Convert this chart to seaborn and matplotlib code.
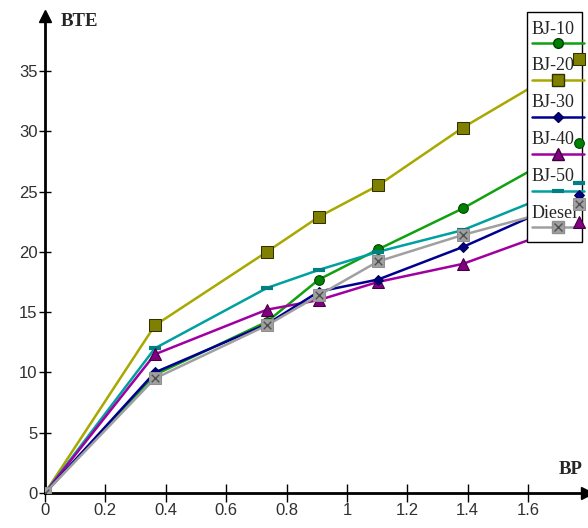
import matplotlib
matplotlib.use("Agg")
import matplotlib.pyplot as plt
import seaborn as sns
import pandas as pd
from matplotlib.lines import Line2D
from matplotlib.transforms import Affine2D
from matplotlib.legend_handler import HandlerTuple, HandlerLine2D

# ---- data ----
bp = [0, 0.364, 0.735, 0.907, 1.103, 1.384, 1.77]
bj10 = [0, 9.8, 14.2, 17.7, 20.2, 23.6, 29.0]
bj20 = [0, 13.9, 20.0, 22.9, 25.5, 30.3, 36.0]
bj30 = [0, 10.0, 14.0, 16.7, 17.7, 20.4, 24.7]
bj40 = [0, 11.5, 15.2, 16.0, 17.5, 19.0, 22.5]
bj50 = [0, 12.0, 17.0, 18.5, 20.0, 21.8, 25.7]
diesel = [0, 9.5, 13.9, 16.4, 19.2, 21.4, 24.0]
series_names = ["BJ-10", "BJ-20", "BJ-30", "BJ-40", "BJ-50", "Diesel"]
x_ticks = [0, 0.2, 0.4, 0.6, 0.8, 1, 1.2, 1.4, 1.6]
x_tick_labels = ["0", "0.2", "0.4", "0.6", "0.8", "1", "1.2", "1.4", "1.6"]
y_ticks = [0, 5, 10, 15, 20, 25, 30, 35]
y_tick_labels = ["0", "5", "10", "15", "20", "25", "30", "35"]

sns.set_theme(style="white")
plt.rcParams["font.family"] = ["Liberation Serif", "DejaVu Serif"]

DPI = 100
fig = plt.figure(figsize=(5.88, 5.28), dpi=DPI)
ax = fig.add_axes([45 / 588, 1 - 493 / 528, (587 - 45) / 588, (493 - 10) / 528])
ax.set_xlim(0, 1.795)
ax.set_ylim(0, 40.05)

styles = {
    "BJ-10": dict(color="#10a010", marker="o", ms=7, mfc="#008000", mec="#004000"),
    "BJ-20": dict(color="#a8a800", marker="s", ms=8.5, mfc="#808000", mec="#303000"),
    "BJ-30": dict(color="#000090", marker="D", ms=5.5, mfc="#000080", mec="#000050"),
    "BJ-40": dict(color="#a000a0", marker="^", ms=8, mfc="#800080", mec="#400040"),
    "BJ-50": dict(color="#00a0a0", marker="_", ms=9, mfc="#008080", mec="#008080", mew=3),
    "Diesel": dict(color="#a0a0a0", marker="s", ms=8, mfc="#a0a0a0", mec="#909090"),
}
values = {"BJ-10": bj10, "BJ-20": bj20, "BJ-30": bj30, "BJ-40": bj40,
          "BJ-50": bj50, "Diesel": diesel}
order = ["BJ-20", "BJ-10", "BJ-50", "BJ-40", "BJ-30", "Diesel"]

# lines (below the legend box)
for name in order:
    df = pd.DataFrame({"BP": bp, "BTE": values[name]})
    sns.lineplot(data=df, x="BP", y="BTE", ax=ax, color=styles[name]["color"],
                 lw=1.8, estimator=None, sort=False, legend=False, zorder=3)
# markers (above the legend box, like the original)
for name in order:
    st = dict(styles[name])
    color = st.pop("color")
    df = pd.DataFrame({"BP": bp, "BTE": values[name]})
    sns.lineplot(data=df, x="BP", y="BTE", ax=ax, color=color, ls="none",
                 estimator=None, sort=False, legend=False, zorder=12, **st)
sns.scatterplot(x=bp, y=diesel, ax=ax, marker="x", s=30, color="#505050",
                linewidth=1.0, zorder=13, legend=False)

ax.set_xlabel("")
ax.set_ylabel("")
for s in ["top", "right"]:
    ax.spines[s].set_visible(False)
for s in ["left", "bottom"]:
    ax.spines[s].set_color("black")
    ax.spines[s].set_linewidth(2)
ax.spines["left"].set_bounds(0, 39.0)

ax.set_xticks(x_ticks)
ax.set_xticklabels(x_tick_labels)
ax.set_yticks(y_ticks)
ax.set_yticklabels(y_tick_labels)
tickfont = ["Liberation Sans Narrow", "Liberation Sans", "DejaVu Sans"]
for lab in ax.get_xticklabels() + ax.get_yticklabels():
    lab.set_family(tickfont)
    lab.set_fontsize(12)
    lab.set_color("#303030")
ax.tick_params(axis="x", direction="inout", length=13, width=1, color="black",
               pad=1, bottom=True)
ax.tick_params(axis="y", direction="inout", length=9, width=1, color="black",
               pad=1, left=True)

# axis arrows
ax.plot([1], [0], marker=">", ms=9, color="black", transform=ax.transAxes,
        clip_on=False, zorder=5)
ax.plot([0], [1 - 6 / 483], marker="^", ms=9, color="black", transform=ax.transAxes,
        clip_on=False, zorder=5)

fig.text(61 / 588, 1 - 22 / 528, "BTE", fontsize=13.5, fontweight="bold",
         va="center", ha="left", family=["Liberation Serif"])
fig.text(559 / 588, 1 - 470 / 528, "BP", fontsize=13.5, fontweight="bold",
         va="center", ha="left", family=["Liberation Serif"])


# legend (Excel-like: label above the line sample)
class DownLine(HandlerLine2D):
    """Line sample drawn a few pixels lower than the default."""
    def __init__(self, dy_px, **kw):
        super().__init__(**kw)
        self.dy = dy_px * 72 / DPI

    def create_artists(self, *args, **kwargs):
        arts = super().create_artists(*args, **kwargs)
        for a in arts:
            a.set_ydata([y - self.dy for y in a.get_ydata()])
        return arts


handles = []
for name in series_names:
    st = dict(styles[name])
    color = st.pop("color")
    h = Line2D([], [], color=color, lw=1.8, **st)
    if name == "Diesel":
        hx = Line2D([], [], ls="none", marker="x", ms=6, mec="#505050", mew=1.0)
        h = (h, hx)
    handles.append(h)
labels = [n + "\n" for n in series_names]
leg = ax.legend(handles, labels, loc="upper left",
                bbox_to_anchor=(527 / 588, 1 - 12 / 528),
                bbox_transform=fig.transFigure,
                handlelength=2.9, handletextpad=-2.9, labelspacing=0.0,
                borderpad=0.25, borderaxespad=0, fontsize=13, frameon=True,
                framealpha=1.0, facecolor="white", fancybox=False,
                handler_map={Line2D: DownLine(8), tuple: HandlerTuple(ndivide=1)})
leg.get_frame().set_edgecolor("black")
leg.get_frame().set_linewidth(1.0)
leg.set_zorder(8)
for t in leg.get_texts():
    t.set_linespacing(1.22)
    t.set_transform(t.get_transform() + Affine2D().translate(0, -4))

fig.savefig("out.png", dpi=DPI)
